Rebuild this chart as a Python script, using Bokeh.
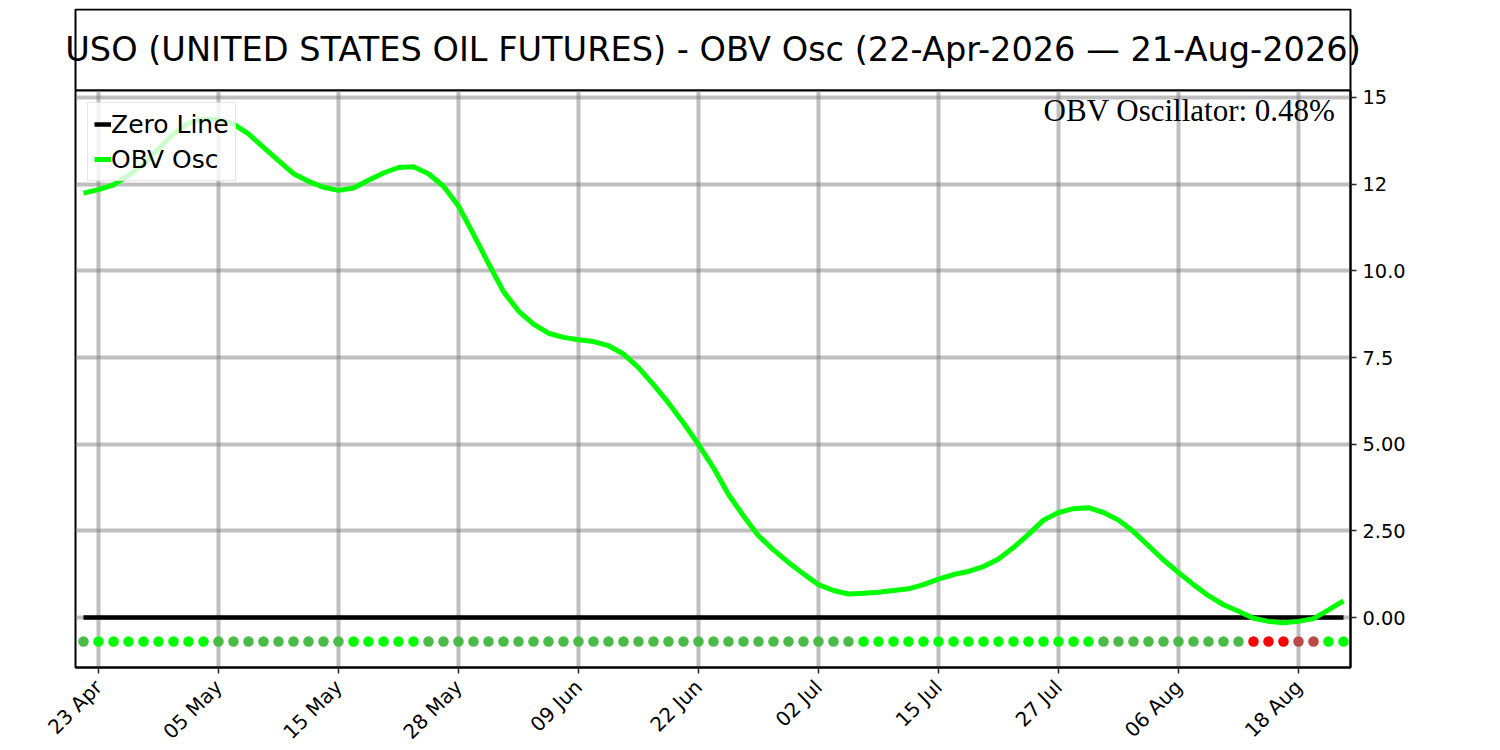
import math
from bokeh.plotting import figure
from bokeh.models import Range1d, FixedTicker, Label, Legend, LegendItem, ColumnDataSource
from bokeh.layouts import column, row
from bokeh.embed import file_html
from bokeh.resources import INLINE

# ---------------- data ----------------
dates = (
    ["22 Apr", "23 Apr", "24 Apr", "27 Apr", "28 Apr", "29 Apr", "30 Apr"]
    + ["01 May", "04 May", "05 May", "06 May", "07 May", "08 May", "11 May", "12 May",
       "13 May", "14 May", "15 May", "18 May", "19 May", "20 May", "21 May", "22 May",
       "26 May", "27 May", "28 May", "29 May"]
    + ["01 Jun", "02 Jun", "03 Jun", "04 Jun", "05 Jun", "08 Jun", "09 Jun", "10 Jun",
       "11 Jun", "12 Jun", "15 Jun", "16 Jun", "17 Jun", "18 Jun", "22 Jun", "23 Jun",
       "24 Jun", "25 Jun", "26 Jun", "29 Jun", "30 Jun"]
    + ["01 Jul", "02 Jul", "06 Jul", "07 Jul", "08 Jul", "09 Jul", "10 Jul", "13 Jul",
       "14 Jul", "15 Jul", "16 Jul", "17 Jul", "20 Jul", "21 Jul", "22 Jul", "23 Jul",
       "24 Jul", "27 Jul", "28 Jul", "29 Jul", "30 Jul", "31 Jul"]
    + ["03 Aug", "04 Aug", "05 Aug", "06 Aug", "07 Aug", "10 Aug", "11 Aug", "12 Aug",
       "13 Aug", "14 Aug", "17 Aug", "18 Aug", "19 Aug", "20 Aug", "21 Aug"]
)

obv_osc = [
    12.24, 12.34, 12.48, 12.75, 13.08, 13.51, 13.95, 14.26, 14.38, 14.36,
    14.23, 13.95, 13.56, 13.18, 12.80, 12.58, 12.41, 12.32, 12.39, 12.61,
    12.82, 12.98, 13.00, 12.80, 12.44, 11.87, 11.05, 10.21, 9.40, 8.84,
    8.46, 8.20, 8.08, 8.01, 7.96, 7.84, 7.60, 7.21, 6.72, 6.19,
    5.61, 4.99, 4.32, 3.55, 2.93, 2.36, 1.95, 1.59, 1.26, 0.95,
    0.78, 0.68, 0.70, 0.73, 0.78, 0.83, 0.95, 1.11, 1.24, 1.33,
    1.47, 1.69, 2.02, 2.40, 2.81, 3.03, 3.14, 3.17, 3.03, 2.81,
    2.48, 2.07, 1.66, 1.30, 0.95, 0.63, 0.37, 0.18, -0.02, -0.11,
    -0.15, -0.11, -0.03, 0.22, 0.48,
]

# dot state runs (state, number of days):
# L = rising above zero, G = falling above zero, R = falling below zero, B = rising below zero
dot_runs = [("G", 1), ("L", 8), ("G", 9), ("L", 5), ("G", 29), ("L", 16),
            ("G", 10), ("R", 3), ("B", 2), ("L", 2)]
state_colors = {"L": "#00ff00", "G": "#4bbb48", "R": "#ff0000", "B": "#b94a48"}

y_ticks = [0, 2.5, 5, 7.5, 10, 12.5, 15]
y_tick_labels = ["0.00", "2.50", "5.00", "7.5", "10.0", "12", "15"]

tick_step = 8
tick_start = 1

title_text = "USO (UNITED STATES OIL FUTURES) - OBV Osc (22-Apr-2026 \u2014 21-Aug-2026)"

# ---------------- derived ----------------
idx = list(range(len(dates)))
dot_colors = [state_colors[s] for s, n in dot_runs for _ in range(n)]
x_tick_idx = list(range(tick_start, len(dates), tick_step))

FRAME_W = 1275
LEFT = 75
X0, X1 = -0.533, len(dates) - 1 + 0.467
Y0, Y1 = -1.44, 15.2
OVERLAP = 12
PAD = 20          # extra room so the title text may overflow the box
BOX_H = 82

# ---------------- title box ----------------
t = figure(frame_width=FRAME_W + 2 * PAD, frame_height=BOX_H, min_border_left=LEFT - PAD,
           min_border_right=10, min_border_top=8, min_border_bottom=0,
           toolbar_location=None, output_backend="svg",
           x_range=Range1d(-PAD, FRAME_W + PAD), y_range=Range1d(0, BOX_H))
t.axis.visible = False
t.grid.visible = False
t.outline_line_color = None
t.background_fill_alpha = 0
t.border_fill_alpha = 0
t.quad(left=[0], right=[FRAME_W], bottom=[0], top=[BOX_H - 1],
       fill_color=None, line_color="black", line_width=2)
t.add_layout(Label(x=FRAME_W / 2, y=BOX_H / 2, text=title_text, text_align="center",
                   text_baseline="middle", text_font="DejaVu Sans",
                   text_font_size="33.6px", text_color="black"))

# ---------------- main plot ----------------
p = figure(frame_width=FRAME_W, frame_height=577, min_border_left=LEFT, min_border_right=100,
           min_border_top=OVERLAP, min_border_bottom=60, toolbar_location=None,
           output_backend="svg", x_range=Range1d(X0, X1), y_range=Range1d(Y0, Y1),
           y_axis_location="right", margin=(-OVERLAP, 0, 0, 0))
p.border_fill_alpha = 0

p.outline_line_color = "black"
p.outline_line_width = 2
p.outline_line_alpha = 1

for g in (p.xgrid[0], p.ygrid[0]):
    g.grid_line_color = "gray"
    g.grid_line_alpha = 0.5
    g.grid_line_width = 4

p.xaxis.ticker = FixedTicker(ticks=x_tick_idx)
p.xaxis.major_label_overrides = {i: dates[i] for i in x_tick_idx}
p.xaxis.major_label_orientation = math.pi / 4
p.yaxis.ticker = FixedTicker(ticks=y_ticks)
p.yaxis.major_label_overrides = {v: s for v, s in zip(y_ticks, y_tick_labels)}

for ax in (p.xaxis[0], p.yaxis[0]):
    ax.axis_line_color = "black"
    ax.axis_line_width = 2
    ax.major_tick_line_color = "#222222"
    ax.major_tick_line_width = 1.5
    ax.major_tick_out = 6
    ax.major_tick_in = 0
    ax.minor_tick_line_color = None
    ax.major_label_text_font = "DejaVu Sans"
    ax.major_label_text_font_size = "19.4px"
    ax.major_label_text_color = "black"
    ax.major_label_standoff = 6
p.xaxis.major_label_text_font_size = "20px"
p.xaxis.major_label_standoff = 10

src = ColumnDataSource(dict(x=idx, y=obv_osc, zero=[0] * len(idx),
                            dot_y=[-0.69] * len(idx), c=dot_colors))

r_zero = p.line("x", "zero", source=src, line_color="black", line_width=4.5)
r_obv = p.line("x", "y", source=src, line_color="#00ff00", line_width=5)
p.scatter("x", "dot_y", source=src, size=10.5, fill_color="c", line_color=None)

legend = Legend(items=[LegendItem(label="Zero Line", renderers=[r_zero]),
                       LegendItem(label="OBV Osc", renderers=[r_obv])],
                location="top_left", margin=12, padding=6, spacing=5,
                glyph_width=17, glyph_height=30, label_height=30, label_standoff=0,
                label_text_font="DejaVu Sans", label_text_font_size="25px",
                label_text_color="black",
                background_fill_color="white", background_fill_alpha=0.8,
                border_line_color="#cccccc", border_line_width=1.5)
p.add_layout(legend)

p.add_layout(Label(x=X1 - 1.0, y=Y1 - 0.08,
                   text=f"OBV Oscillator: {obv_osc[-1]:.2f}%",
                   text_align="right", text_baseline="top",
                   text_font="Liberation Serif", text_font_size="31px",
                   text_color="black"))

layout = column(row(t), p, spacing=0)
open("out.html", "w").write(file_html(layout, INLINE))
